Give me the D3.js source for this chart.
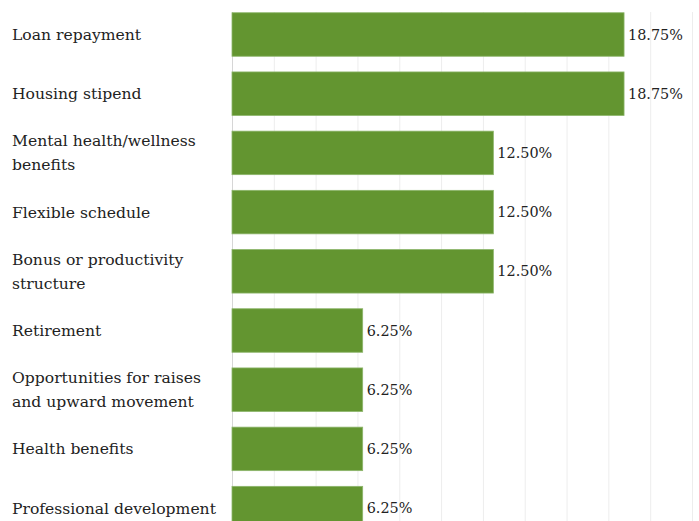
<!DOCTYPE html>
<html>
<head>
<meta charset="utf-8">
<script src="https://cdn.jsdelivr.net/npm/d3@7"></script>
<style>
  html, body { margin: 0; padding: 0; background: #fff; overflow: hidden; }
  svg { display: block; }
  .cat { font-family: "DejaVu Serif", serif; font-size: 15.6px; fill: #222; }
  .val { font-family: "DejaVu Serif", serif; font-size: 14.4px; fill: #222; }
</style>
</head>
<body>
<svg id="chart" width="699" height="521"></svg>
<script>
// Benefit categories (line breaks mark where long labels wrap)
const categories = [
  "Loan repayment",
  "Housing stipend",
  "Mental health/wellness\nbenefits",
  "Flexible schedule",
  "Bonus or productivity\nstructure",
  "Retirement",
  "Opportunities for raises\nand upward movement",
  "Health benefits",
  "Professional development"
];
// Share of responses, percent
const values = [18.75, 18.75, 12.50, 12.50, 12.50, 6.25, 6.25, 6.25, 6.25];
const valueLabels = ["18.75%", "18.75%", "12.50%", "12.50%", "12.50%", "6.25%", "6.25%", "6.25%", "6.25%"];
// Vertical gridline positions, percent
const gridTicks = [0, 2, 4, 6, 8, 10, 12, 14, 16, 18, 20, 22];

const data = categories.map((c, i) => ({ cat: c, value: values[i], label: valueLabels[i] }));

const svg = d3.select("#chart");

const x = d3.scaleLinear().domain([0, 22]).range([232, 692]);
const y = d3.scaleBand()
  .domain(categories)
  .range([4.9, 537.7])
  .paddingInner(0.265)
  .paddingOuter(0.1325);

// Gridlines
svg.append("g")
  .selectAll("line")
  .data(gridTicks)
  .join("line")
  .attr("x1", d => x(d) + 0.5)
  .attr("x2", d => x(d) + 0.5)
  .attr("y1", 12)
  .attr("y2", 521)
  .attr("stroke", d => d === 0 ? "#d6d6d6" : "#ededed")
  .attr("stroke-width", 1);

// Bars
svg.append("g")
  .selectAll("rect")
  .data(data)
  .join("rect")
  .attr("x", x(0))
  .attr("y", d => y(d.cat))
  .attr("width", d => x(d.value) - x(0))
  .attr("height", y.bandwidth())
  .attr("fill", "#639530")
  .attr("stroke", "#8cb56a")
  .attr("stroke-width", 0.8);

// Value labels
svg.append("g")
  .selectAll("text")
  .data(data)
  .join("text")
  .attr("class", "val")
  .attr("x", d => x(d.value) + 4)
  .attr("y", d => y(d.cat) + y.bandwidth() / 2)
  .attr("dy", "0.35em")
  .text(d => d.label);

// Category labels
const lineH = 24;
const cats = svg.append("g")
  .selectAll("text")
  .data(data)
  .join("text")
  .attr("class", "cat")
  .attr("x", 12)
  .attr("y", d => y(d.cat) + y.bandwidth() / 2);

cats.each(function(d) {
  const lines = d.cat.split("\n");
  const t = d3.select(this);
  const y0 = -(lines.length - 1) * lineH / 2;
  lines.forEach((ln, i) => {
    t.append("tspan")
      .attr("x", 12)
      .attr("dy", i === 0 ? (y0 + 5.5) : lineH)
      .text(ln);
  });
});
</script>
</body>
</html>
